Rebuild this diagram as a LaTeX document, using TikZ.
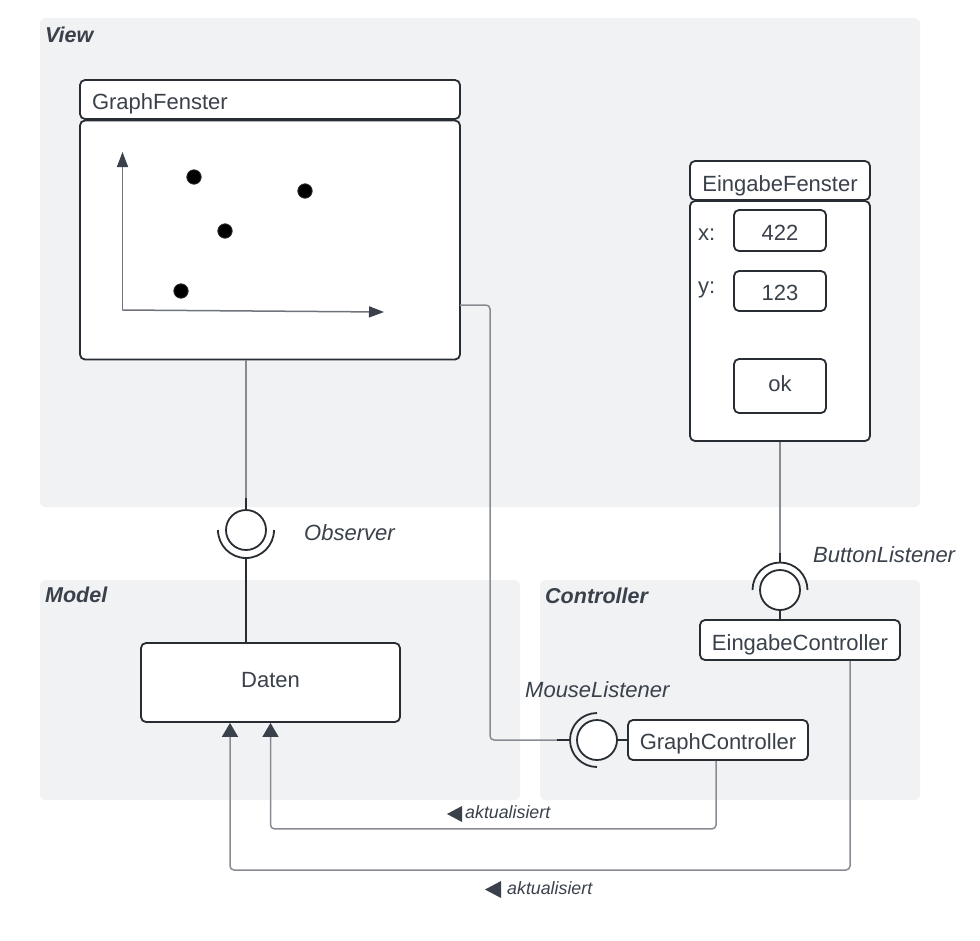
\documentclass[tikz,border=0pt]{standalone}
\usepackage{fontspec}
\setmainfont{Liberation Sans}
\usetikzlibrary{arrows.meta,calc}
\definecolor{bg}{HTML}{F1F2F4}
\definecolor{txt}{HTML}{3A414A}
\definecolor{edgec}{HTML}{282C33}
\definecolor{wire}{HTML}{888C92}
\definecolor{axis}{HTML}{6F737A}
\tikzset{
  container/.style={fill=bg, draw=none, rounded corners=6},
  box/.style={draw=edgec, line width=1.8pt, rounded corners=5pt, fill=white, text=txt,
    font=\fontsize{22}{26}\selectfont, inner sep=0pt, text depth=0pt},
  tsh/.style={text height=#1},
  ctitle/.style={anchor=west, text=txt, font=\fontsize{21.5}{26}\selectfont\bfseries\itshape,
    inner sep=0pt, text height=15.4pt, text depth=0pt},
  iname/.style={anchor=west, text=txt, font=\fontsize{22}{26}\selectfont\itshape,
    inner sep=0pt, text height=15.75pt, text depth=0pt},
  plain/.style={anchor=west, text=txt, font=\fontsize{22}{26}\selectfont,
    inner sep=0pt, text height=15.75pt, text depth=0pt},
  upd/.style={anchor=west, text=txt, font=\fontsize{17.8}{20}\selectfont\itshape,
    inner sep=0pt, text height=12.75pt, text depth=0pt},
  iface/.style={circle, draw=edgec, line width=1.8pt, fill=white, minimum size=40pt, inner sep=0pt},
  socket/.style={draw=edgec, line width=1.8pt},
  wireline/.style={draw=wire, line width=1.5pt, rounded corners=4},
  darkline/.style={draw=edgec, line width=1.8pt},
  updarrow/.style={wireline, -{Triangle[length=14pt,width=16pt,color=txt,fill=txt]}},
}
\begin{document}
\begin{tikzpicture}[x=1pt,y=-1pt]
\useasboundingbox (0,0) rectangle (980,940);
\fill[white] (0,0) rectangle (980,940);

% containers
\fill[container] (40,18) rectangle (920,507);
\fill[container] (40,580) rectangle (520,800);
\fill[container] (540,580) rectangle (920,800);
\node[ctitle] (tview) at (45,35) {View};
\node[ctitle] (tmodel) at (45,595) {Model};
\node[ctitle] (tctrl) at (545,595.7) {Controller};

% GraphFenster
\node[box, tsh=20.75pt, minimum width=380pt, minimum height=39pt, text width=356pt, align=left] (gfhead) at (270,99.5) {GraphFenster};
\node[box, minimum width=380pt, minimum height=239pt] (gfbody) at (270,240) {};
\coordinate (yaxtop) at (122.5,152);
\coordinate (origin) at (122.5,310);
\coordinate (xaxend) at (384,312);
\draw[axis, line width=1.5pt, -{Triangle[length=15pt,width=11pt,color=txt,fill=txt]}] (origin) -- (yaxtop);
\draw[axis, line width=1.5pt, -{Triangle[length=15pt,width=11pt,color=txt,fill=txt]}] (origin) -- (xaxend);
\foreach \p in {(194,177),(305,191),(225,231),(181,291)}
  \filldraw[fill=black, draw=edgec, line width=0.8pt] \p circle (7.2);

% EingabeFenster
\node[box, tsh=21.35pt, minimum width=180pt, minimum height=39pt] (efhead) at (780,180.5) {EingabeFenster};
\node[box, minimum width=180pt, minimum height=240pt] (efbody) at (780,321) {};
\node[plain] (xl) at (698,232.8) {x:};
\node[plain] (yl) at (698,286.1) {y:};
\node[box, tsh=19.75pt, minimum width=92pt, minimum height=41pt] (xf) at (780,230.5) {422};
\node[box, tsh=19.75pt, minimum width=92pt, minimum height=40pt] (yf) at (780,291) {123};
\node[box, tsh=11.15pt, minimum width=92pt, minimum height=54pt] (okb) at (780,386) {ok};

% Model
\node[box, tsh=9.75pt, minimum width=259pt, minimum height=79pt] (daten) at (270.5,682.5) {Daten};

% Controllers
\node[box, tsh=20.75pt, minimum width=200pt, minimum height=40pt] (ec) at (800,640) {EingabeController};
\node[box, tsh=18.75pt, minimum width=180pt, minimum height=40pt] (gc) at (718,740) {GraphController};

% Observer interface
\node[iface] (obs) at (246,530) {};
\draw[socket] (obs.center) ++(28,0) arc[start angle=0, end angle=180, radius=28];
\node[iname] (lobs) at (304,533) {Observer};
\draw[wireline] (gfbody.south -| obs.center) -- (obs.north);
\draw[darkline] ([yshift=11pt]obs.north) -- (obs.north);
\draw[darkline] ([yshift=-28pt]obs.center) -- (daten.north -| obs.center);

% ButtonListener interface
\node[iface] (bl) at (780,590) {};
\draw[socket] (bl.center) ++(-27.5,0) arc[start angle=180, end angle=360, radius=27.5];
\node[iname] (lbl) at (813,555) {ButtonListener};
\coordinate (blsock) at (780,562.5);
\draw[wireline] (efbody.south) -- (blsock);
\draw[darkline] ([yshift=10pt]blsock) -- (blsock);
\draw[darkline] (bl.south) -- (ec.north -| bl.south);

% MouseListener interface
\node[iface] (ml) at (597,740) {};
\draw[socket] (ml.center) ++(0,27) arc[start angle=90, end angle=270, radius=27];
\node[iname] (lml) at (525,689.5) {MouseListener};
\coordinate (gfout) at (460,305);
\coordinate (mlsock) at (570,740);
\draw[wireline] (gfout) -- (490,305) -- (490,740) -- (mlsock);
\draw[darkline] ([xshift=-13pt]mlsock) -- (mlsock);
\draw[darkline] (ml.east) -- (gc.west);

% aktualisiert connectors
\draw[updarrow] ([xshift=-2pt]gc.south) -- ++(0,68) -| (daten.south);
\draw[updarrow] ([xshift=50pt]ec.south) -- (850,870) -| ([xshift=-40.5pt]daten.south);
\fill[txt] (462,806) -- (462,822) -- (447,814) -- cycle;
\node[upd] (lupd1) at (465,812.6) {aktualisiert};
\fill[txt] (501,881) -- (501,898) -- (485,889.5) -- cycle;
\node[upd] (lupd2) at (507,888.6) {aktualisiert};
\end{tikzpicture}
\end{document}
